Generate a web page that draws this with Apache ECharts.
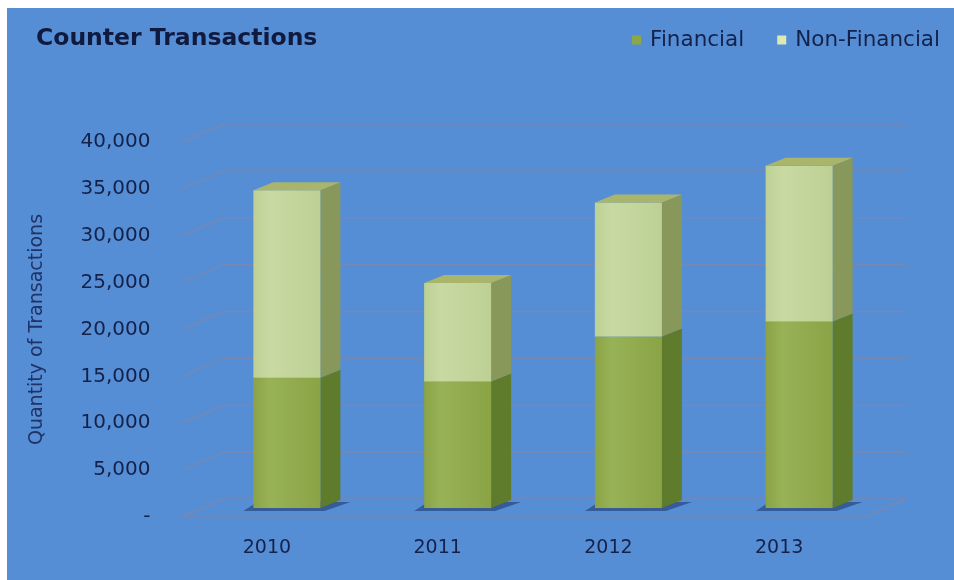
<!DOCTYPE html>
<html>
<head>
<meta charset="utf-8">
<script src="https://cdn.jsdelivr.net/npm/echarts@6/dist/echarts.min.js"></script>
<style>
  html, body { margin: 0; padding: 0; background: #ffffff; }
  #chart { position: absolute; left: 7px; top: 8px; width: 947px; height: 572px; }
</style>
</head>
<body>
<div id="chart"></div>
<script>
// Counter transactions per year, split by type
const years = ['2010', '2011', '2012', '2013'];
const financial = [13900, 13500, 18300, 19900];
const nonFinancial = [20000, 10500, 14300, 16600];
const yTicks = [0, 5000, 10000, 15000, 20000, 25000, 30000, 35000, 40000];

// Depth of the pseudo-3D boxes (pixels)
const FACE_W = 67;      // front face width
const SHIFT_X = 20;     // front face offset from floor edge
const SHIFT_Y = -9;
const DEPTH_X = 20;     // box depth
const DEPTH_Y = -8;
const WALL_X = 42;      // back wall offset
const WALL_Y = -18;

const chart = echarts.init(document.getElementById('chart'), null, { renderer: 'canvas' });

// stacked ranges [category, low, high]
const finData = years.map((y, i) => [i, 0, financial[i]]);
const nonData = years.map((y, i) => [i, financial[i], financial[i] + nonFinancial[i]]);

function boxRenderer(front, side, top, withTop) {
  return function (params, api) {
    const c = api.value(0), lo = api.value(1), hi = api.value(2);
    const pLo = api.coord([c, lo]);
    const pHi = api.coord([c, hi]);
    const cx = pLo[0] + SHIFT_X;
    const yb = pLo[1] + SHIFT_Y;
    const yt = pHi[1] + SHIFT_Y;
    const xl = cx - FACE_W / 2, xr = cx + FACE_W / 2;
    const children = [];
    if (lo === 0) {
      // floor shadow
      children.push({
        type: 'polygon',
        shape: { points: [[xl - 10, yb + 3], [xr + 4, yb + 3], [xr + DEPTH_X + 10, yb + DEPTH_Y + 2], [xl + 4, yb + DEPTH_Y + 2]] },
        style: { fill: 'rgba(20,40,90,0.5)' }
      });
    }
    children.push({
      type: 'polygon',
      shape: { points: [[xr, yb], [xr + DEPTH_X, yb + DEPTH_Y], [xr + DEPTH_X, yt + DEPTH_Y], [xr, yt]] },
      style: { fill: side }
    });
    children.push({
      type: 'rect',
      shape: { x: xl, y: yt, width: FACE_W, height: yb - yt },
      style: {
        fill: new echarts.graphic.LinearGradient(0, 0, 1, 0, [
          { offset: 0, color: front[0] },
          { offset: 0.25, color: front[1] },
          { offset: 1, color: front[0] }
        ])
      }
    });
    if (withTop) {
      children.push({
        type: 'polygon',
        shape: { points: [[xl, yt], [xl + DEPTH_X, yt + DEPTH_Y], [xr + DEPTH_X, yt + DEPTH_Y], [xr, yt]] },
        style: { fill: top }
      });
    }
    return { type: 'group', children: children };
  };
}

// faint wall gridlines: side wall from the axis back, then along the back wall
function wallRenderer(params, api) {
  const v = api.value(0);
  const y = api.coord([0, v])[1];
  const x0 = params.coordSys.x;
  const x1 = params.coordSys.x + params.coordSys.width;
  const stroke = 'rgba(190,125,105,0.3)';
  const children = [{
    type: 'polyline',
    shape: { points: [[x0, y], [x0 + WALL_X, y + WALL_Y], [x1 + WALL_X, y + WALL_Y]] },
    style: { stroke: stroke, lineWidth: 1.5, fill: null }
  }];
  if (v === 0) {
    children.push({
      type: 'polyline',
      shape: { points: [[x0, y], [x1, y], [x1 + WALL_X, y + WALL_Y]] },
      style: { stroke: stroke, lineWidth: 1.5, fill: null }
    });
  }
  return { type: 'group', children: children };
}

const FONT = 'DejaVu Sans';
const INK = '#14224a';

chart.setOption({
  backgroundColor: '#568ed6',
  animation: false,
  title: {
    text: 'Counter Transactions',
    left: 29, top: 19, padding: 0,
    textStyle: { fontFamily: 'DejaVu Sans', fontWeight: 'bold', fontSize: 23.5, color: '#0f1a3e' }
  },
  legend: {
    right: 9, top: 16,
    itemWidth: 9, itemHeight: 9, itemGap: 33,
    textStyle: { fontFamily: FONT, fontSize: 21.5, color: INK, padding: [0, 0, 0, 4] },
    data: [
      { name: 'Financial', icon: 'rect', itemStyle: { color: '#8ea847' } },
      { name: 'Non-Financial', icon: 'rect', itemStyle: { color: '#dde9b0' } }
    ]
  },
  grid: { left: 174.5, right: 89.5, top: 134, bottom: 63, containLabel: false },
  xAxis: {
    type: 'category',
    data: years,
    axisLine: { show: false },
    axisTick: { show: false },
    axisLabel: { fontFamily: FONT, fontSize: 19, color: INK, margin: 22 }
  },
  yAxis: {
    type: 'value',
    min: 0, max: 40000, interval: 5000,
    name: 'Quantity of Transactions',
    nameLocation: 'middle',
    nameGap: 135,
    nameTextStyle: { fontFamily: FONT, fontSize: 19, color: '#1f3366' },
    axisLine: { show: false },
    axisTick: { show: false },
    splitLine: { show: false },
    axisLabel: {
      fontFamily: FONT, fontSize: 20, color: INK, margin: 31,
      formatter: v => v === 0 ? '-' : v.toLocaleString('en-US')
    }
  },
  series: [
    {
      type: 'custom',
      name: 'grid',
      data: yTicks.map(v => [v]),
      encode: { y: 0 },
      renderItem: wallRenderer,
      silent: true,
      z: 1
    },
    {
      type: 'custom',
      name: 'Financial',
      data: finData,
      encode: { x: 0, y: [1, 2] },
      renderItem: boxRenderer(['#8aa345', '#98b257'], '#5f7b2c', '#9fb060', false),
      itemStyle: { color: '#8ea847' },
      z: 3
    },
    {
      type: 'custom',
      name: 'Non-Financial',
      data: nonData,
      encode: { x: 0, y: [1, 2] },
      renderItem: boxRenderer(['#bdd094', '#c8daa2'], '#87985a', '#a9b56a', true),
      itemStyle: { color: '#dde9b0' },
      z: 3
    }
  ]
});
</script>
</body>
</html>
